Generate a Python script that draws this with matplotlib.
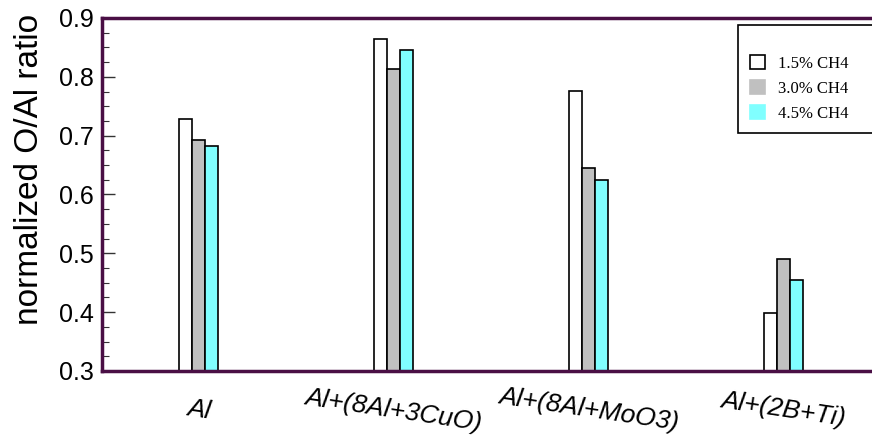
import matplotlib.pyplot as plt
from matplotlib.patches import Patch
import numpy as np

# normalized O/Al ratio
samples = ['Al', 'Al+(8Al+3CuO)', 'Al+(8Al+MoO3)', 'Al+(2B+Ti)']
ch4_15 = [0.728, 0.865, 0.776, 0.399]
ch4_30 = [0.693, 0.814, 0.645, 0.490]
ch4_45 = [0.683, 0.846, 0.625, 0.455]
series_labels = ['1.5% CH4', '3.0% CH4', '4.5% CH4']
series_colors = ['white', '#c0c0c0', '#80ffff']

spine_col = '#4a0f45'
plt.rcParams['font.family'] = ['Liberation Sans', 'DejaVu Sans']

fig = plt.figure(figsize=(8.72, 4.38), dpi=100)
ax = fig.add_axes([0.117, 0.153, 0.883, 0.806])

x = np.arange(len(samples))
w = 0.0667
for i, vals in enumerate([ch4_15, ch4_30, ch4_45]):
    ax.bar(x + (i - 1) * w, vals, width=w, bottom=0, color=series_colors[i],
           edgecolor='black', linewidth=1.2, zorder=2)

ax.set_ylim(0.3, 0.9)
ax.set_xlim(-0.495, 3.454)
ax.set_yticks(np.arange(0.3, 0.91, 0.1))
ax.set_yticks(np.arange(0.3, 0.91, 0.025), minor=True)
ax.set_yticklabels(['%.1f' % v for v in np.arange(0.3, 0.91, 0.1)], fontsize=18)
ax.tick_params(axis='y', which='major', direction='in', length=9, width=1,
               color='#333333', pad=6)
ax.tick_params(axis='y', which='minor', direction='in', length=5, width=0.8,
               color='#333333')
ax.set_xticks(x)
ax.set_xticklabels(samples, fontsize=19, style='italic', rotation=-8.5,
                   rotation_mode='anchor', ha='center', va='center')
ax.tick_params(axis='x', length=0, pad=28)
ax.set_ylabel('normalized O/Al ratio', fontsize=24)
ax.yaxis.set_label_coords(-0.074, 0.572)

for s in ['left', 'top', 'bottom']:
    ax.spines[s].set_color(spine_col)
    ax.spines[s].set_linewidth(2.5)
ax.spines['right'].set_visible(False)

handles = [Patch(facecolor=c, edgecolor='black' if c == 'white' else c,
                 linewidth=1.2) for c in series_colors]
leg = ax.legend(handles, series_labels, loc='upper left',
                bbox_to_anchor=(0.826, 0.0, 0.25, 0.98), mode='expand',
                borderaxespad=0,
                prop={'family': 'Liberation Serif', 'size': 12},
                title=' ', title_fontsize=8, handlelength=0.9, handleheight=0.9,
                handletextpad=0.8, labelspacing=0.5, borderpad=0.7,
                fancybox=False, edgecolor='black', framealpha=1)
leg.get_frame().set_linewidth(1.2)

fig.savefig('out.png', dpi=100)
